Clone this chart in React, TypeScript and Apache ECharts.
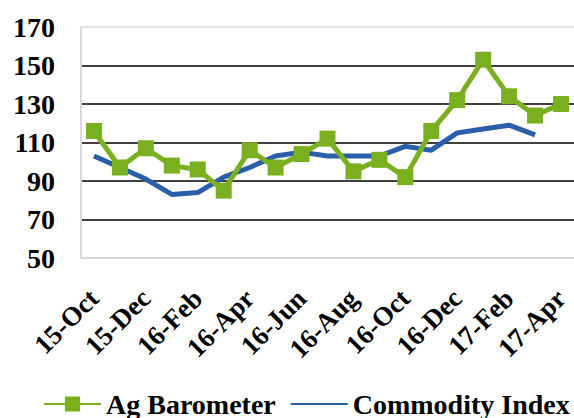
import React, { useEffect, useRef } from "react";
import * as echarts from "echarts";

const categories = [
  "15-Oct", "15-Nov", "15-Dec", "16-Jan", "16-Feb", "16-Mar", "16-Apr", "16-May", "16-Jun",
  "16-Jul", "16-Aug", "16-Sep", "16-Oct", "16-Nov", "16-Dec", "17-Jan", "17-Feb", "17-Mar", "17-Apr",
];
const agBarometer = [116, 97, 107, 98, 96, 85, 106, 97, 104, 112, 95, 101, 92, 116, 132, 153, 134, 124, 130];
const commodityIndex = [103, 97, 91, 83, 84, 92, 97, 103, 105, 103, 103, 103, 108, 106, 115, 117, 119, 114, null];
const yTicks = { min: 50, max: 170, interval: 20 };

const FONT = "'Liberation Serif', 'Times New Roman', serif";
const GREEN = "#7AB020";
const BLUE = "#2A5EA8";
const GRAY = "#D9D9D9";

export default function App() {
  const ref = useRef<HTMLDivElement>(null);
  useEffect(() => {
    if (!ref.current) return;
    const chart = echarts.init(ref.current, undefined, { renderer: "svg" });
    chart.setOption({
      animation: false,
      backgroundColor: "#ffffff",
      grid: { left: 81, top: 27, width: 498, height: 231 },
      legend: {
        left: 38,
        top: 385,
        width: 1000,
        itemWidth: 57,
        itemHeight: 19,
        itemGap: 14,
        textStyle: { fontFamily: FONT, fontWeight: "bold", fontSize: 28, color: "#000" },
        data: [
          { name: "Ag Barometer" },
          { name: "Commodity Index", itemStyle: { opacity: 0 } },
        ],
      },
      xAxis: {
        type: "category",
        data: categories,
        boundaryGap: true,
        axisTick: { show: false },
        axisLine: { show: true, lineStyle: { color: GRAY, width: 2 } },
        axisLabel: {
          interval: 1,
          rotate: 45,
          margin: 36,
          fontFamily: FONT,
          fontWeight: "bold",
          fontSize: 27,
          color: "#000",
        },
        splitLine: { show: false },
      },
      yAxis: {
        type: "value",
        min: yTicks.min,
        max: yTicks.max,
        interval: yTicks.interval,
        axisTick: { show: false },
        axisLine: { show: true, lineStyle: { color: GRAY, width: 2 } },
        axisLabel: {
          margin: 26,
          fontFamily: FONT,
          fontWeight: "bold",
          fontSize: 28,
          color: "#000",
        },
        splitLine: {
          show: true,
          lineStyle: { color: [GRAY, "#000", "#000", "#000", "#000", "#000", GRAY], width: 1.5 },
        },
      },
      series: [
        {
          name: "Ag Barometer",
          type: "line",
          data: agBarometer,
          symbol: "rect",
          symbolSize: 16,
          lineStyle: { color: GREEN, width: 5 },
          itemStyle: { color: GREEN },
          z: 3,
        },
        {
          name: "Commodity Index",
          type: "line",
          data: commodityIndex,
          symbol: "none",
          lineStyle: { color: BLUE, width: 5 },
          itemStyle: { color: BLUE },
          z: 2,
        },
      ],
    });
    return () => chart.dispose();
  }, []);
  return (
    <div
      ref={ref}
      style={{ position: "fixed", left: 0, top: 0, width: 574, height: 418, overflow: "hidden" }}
    />
  );
}
